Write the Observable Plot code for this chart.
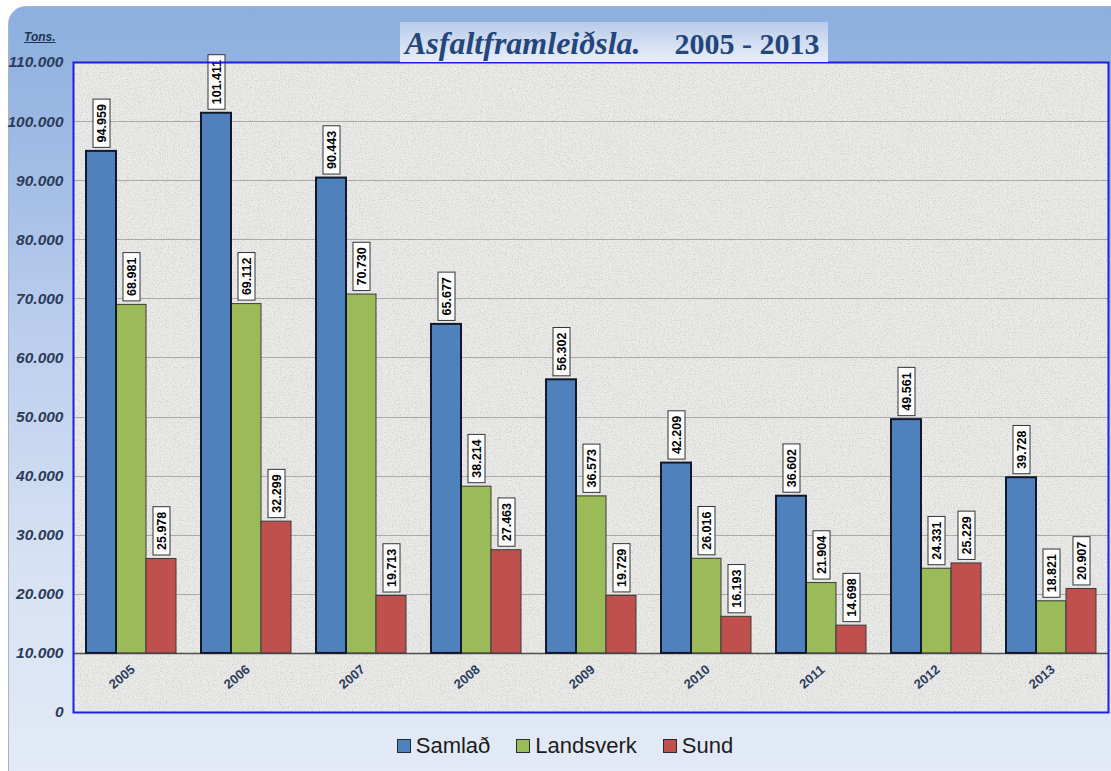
<!DOCTYPE html>
<html><head><meta charset="utf-8">
<script src="https://cdn.jsdelivr.net/npm/d3@7"></script>
<script src="https://cdn.jsdelivr.net/npm/@observablehq/plot@0.6"></script>
<style>
body{margin:0;background:#fff;}
#wrap{position:relative;width:1111px;height:771px;overflow:hidden;}
#card{position:absolute;left:8px;top:6px;width:1130px;height:790px;border-radius:18px;
 background:linear-gradient(to bottom,#8bafdf 0%,#a2bce5 20%,#bfd1ee 45%,#d6e1f3 70%,#e5ebf7 100%);
 border:1px solid #a9b4c4;}
#title{position:absolute;left:400px;top:22px;width:428px;height:40px;box-sizing:border-box;padding-left:5px;
 background:linear-gradient(to bottom,#b8cbea,#e9eff9);
 font-family:"Liberation Serif","DejaVu Serif",serif;color:#24467a;font-weight:bold;
 line-height:42px;white-space:nowrap;}
#title .a{font-style:italic;font-size:32px;}
#title .b{font-size:30px;margin-left:34px;}
#tons{position:absolute;left:24px;top:30px;font-family:"Liberation Sans",Arial,sans-serif;font-size:12px;
 font-weight:bold;font-style:italic;text-decoration:underline;color:#22324f;}
#chart{position:absolute;left:0;top:0;}
#legend{position:absolute;left:0;width:1130px;top:733px;display:flex;justify-content:center;gap:26px;
 font-family:"Liberation Sans",Arial,sans-serif;font-size:22px;color:#1c1c1c;}
#legend span.item{display:flex;align-items:center;}
#legend span.sw{display:inline-block;width:12px;height:12px;border:1px solid #2a2a2a;margin-right:5px;}
</style></head>
<body>
<div id="wrap">
 <div id="card"></div>
 <div id="chart"></div>
 <div id="title"><span class="a">Asfaltframleiðsla.</span><span class="b">2005 - 2013</span></div>
 <div id="tons">Tons.</div>
 <div id="legend"></div>
</div>
<script>
const years = ["2005","2006","2007","2008","2009","2010","2011","2012","2013"];
const series = ["Samlað","Landsverk","Sund"];
const samlad = [94959,101411,90443,65677,56302,42209,36602,49561,39728];
const landsverk = [68981,69112,70730,38214,36573,26016,21904,24331,18821];
const sund = [25978,32299,19713,27463,19729,16193,14698,25229,20907];
const colors = ["#4f81bd","#9bbb59","#c0504d"];
const yTicks = [0,10000,20000,30000,40000,50000,60000,70000,80000,90000,100000,110000];
const gridTicks = [20000,30000,40000,50000,60000,70000,80000,90000,100000];
const baseValue = 10000;

const seriesValues = [samlad, landsverk, sund];
const data = years.flatMap((y,i)=>series.map((s,j)=>({year:y, series:s, value:seriesValues[j][i]})));
const locale = d3.formatLocale({decimal:",", thousands:".", grouping:[3], currency:["",""]});
const fmt = locale.format(",d");

const chart = Plot.plot({
  width:1111, height:771,
  marginLeft:72, marginRight:3, marginTop:62, marginBottom:59,
  style:{background:"transparent", fontFamily:"'Liberation Sans', Arial, sans-serif", overflow:"visible"},
  fx:{domain:years, paddingInner:0, paddingOuter:0, axis:null, label:null},
  x:{domain:series, paddingInner:0, paddingOuter:0.357, axis:null},
  y:{domain:[0,110000], axis:null},
  color:{domain:series, range:colors},
  marks:[
    Plot.frame({facet:"super", fill:"#ebebe9", stroke:null, ariaLabel:"plot-bg"}),
    Plot.ruleY(gridTicks, {stroke:"#aaaaaa", strokeWidth:1, shapeRendering:"crispEdges"}),
    Plot.ruleY([baseValue], {stroke:"#505050", strokeWidth:1.5}),
    Plot.barY(data, {filter:d=>d.series!=="Samlað", fx:"year", x:"series", y1:baseValue, y2:"value", fill:"series", stroke:"#3a3a3a", strokeWidth:1}),
    Plot.barY(data, {filter:d=>d.series==="Samlað", fx:"year", x:"series", y1:baseValue, y2:"value", fill:"series", stroke:"#111827", strokeWidth:2}),
    Plot.text(data, {fx:"year", x:"series", y:"value", text:d=>fmt(d.value), rotate:-90, textAnchor:"start", dy:-9,
      fontWeight:"bold", fontSize:12.5, fill:"#000"}),
    Plot.text(years, {fx:d=>d, y:6000, text:d=>d, rotate:-40, dx:-9, fontWeight:"bold", fontSize:13, fill:"#2c3d5c"}),
    Plot.axisY({ticks:yTicks, tickFormat:fmt, tickSize:0, tickPadding:10, fontWeight:"bold", fontStyle:"italic",
      fontSize:15.5, fill:"#2b3b5a", label:null}),
    Plot.frame({facet:"super", stroke:"#1f1fe0", strokeWidth:2})
  ]
});
document.getElementById("chart").appendChild(chart);

// subtle granite texture on the plot background
const NS = "http://www.w3.org/2000/svg";
const defs = document.createElementNS(NS, "defs");
defs.innerHTML = `<filter id="speck" x="0" y="0" width="1" height="1">
  <feTurbulence type="fractalNoise" baseFrequency="0.85" numOctaves="3" seed="7" result="noise"/>
  <feColorMatrix in="noise" type="matrix" values="0 0 0 0 0.5  0 0 0 0 0.5  0 0 0 0 0.49  0 0 0 -1.4 0.82" result="dots"/>
  <feComposite in="dots" in2="SourceGraphic" operator="in" result="clipped"/>
  <feMerge><feMergeNode in="SourceGraphic"/><feMergeNode in="clipped"/></feMerge>
</filter>`;
chart.insertBefore(defs, chart.firstChild);
const bgRect = chart.querySelector('g[aria-label="frame"] rect, rect[aria-label="plot-bg"]');
if (bgRect) bgRect.setAttribute("filter", "url(#speck)");

// white boxes behind value labels (rotated texts carrying formatted data values)
const labelSet = new Set(data.map(d=>fmt(d.value)));
Array.from(chart.querySelectorAll("text")).forEach(t=>{
  const tr = t.getAttribute("transform") || "";
  if (!labelSet.has(t.textContent) || !/rotate\(-90\)/.test(tr)) return;
  const bb = t.getBBox();
  const r = document.createElementNS(NS,"rect");
  r.setAttribute("x", bb.x-5); r.setAttribute("y", bb.y-1.5);
  r.setAttribute("width", bb.width+10); r.setAttribute("height", bb.height+3);
  r.setAttribute("fill","#fff"); r.setAttribute("stroke","#333"); r.setAttribute("stroke-width","1");
  r.setAttribute("transform", tr);
  t.parentNode.insertBefore(r, t);
});

const legend = document.getElementById("legend");
series.forEach((s,i)=>{
  const item = document.createElement("span"); item.className="item";
  const sw = document.createElement("span"); sw.className="sw"; sw.style.background=colors[i];
  item.appendChild(sw); item.appendChild(document.createTextNode(s));
  legend.appendChild(item);
});
</script>
</body></html>
